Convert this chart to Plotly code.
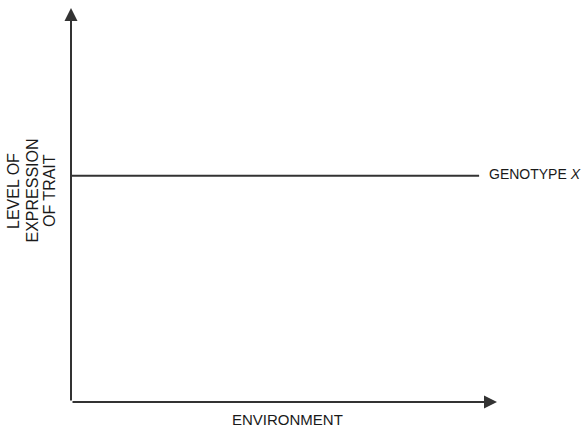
import plotly.graph_objects as go

# Data
environment = [0.0, 0.958]          # environment range covered by genotype X
level_genotype_x = [0.574, 0.574]   # constant level of expression
series_label = "GENOTYPE <i>X</i>"
x_title = "ENVIRONMENT"
y_title_lines = ["LEVEL OF", "EXPRESSION", "OF TRAIT"]

W, H = 583, 428
L, R, T, B = 71, 86, 8, 26

ink = "#333333"
font = dict(family="Liberation Sans, Arial, sans-serif", size=14, color="#1a1a1a")

pw = W - L - R
ph = H - T - B

def px_x(p):   # page pixel x -> paper x
    return (p - L) / pw

def px_y(p):   # page pixel y -> paper y
    return (H - B - p) / ph

fig = go.Figure()
fig.add_trace(go.Scatter(
    x=environment, y=level_genotype_x, mode="lines",
    line=dict(color=ink, width=2), showlegend=False, hoverinfo="skip",
    cliponaxis=False,
))

annotations = [
    dict(x=0, y=1, ax=0, ay=0, xref="x", yref="y", axref="x", ayref="y",
         showarrow=True, arrowhead=2, arrowsize=1.3, arrowwidth=2,
         arrowcolor=ink, text="", standoff=0, startstandoff=0),
    dict(x=1, y=0, ax=0, ay=0, xref="x", yref="y", axref="x", ayref="y",
         showarrow=True, arrowhead=2, arrowsize=1.3, arrowwidth=2,
         arrowcolor=ink, text="", standoff=0, startstandoff=0),
    dict(x=px_x(487), y=level_genotype_x[-1], xref="paper", yref="y",
         text=series_label, showarrow=False, xanchor="left", yanchor="middle",
         font=font, yshift=2),
    dict(x=px_x(287), y=px_y(419), xref="paper", yref="paper", text=x_title,
         showarrow=False, xanchor="center", yanchor="middle",
         font=dict(font, size=15)),
]
for line_text, xpix in zip(y_title_lines, [13, 31.5, 49]):
    annotations.append(dict(
        x=px_x(xpix), y=px_y(191), xref="paper", yref="paper", text=line_text,
        showarrow=False, xanchor="center", yanchor="middle", textangle=-90,
        font=dict(font, size=16)))

fig.update_layout(
    width=W, height=H,
    margin=dict(l=L, r=R, t=T, b=B, pad=0),
    paper_bgcolor="white", plot_bgcolor="white",
    xaxis=dict(range=[0, 1], visible=False, fixedrange=True),
    yaxis=dict(range=[0, 1], visible=False, fixedrange=True),
    annotations=annotations,
    showlegend=False,
)

fig.write_html(
    "out.html",
    config={"displayModeBar": False},
    post_script="document.body.style.margin='0';document.body.style.overflow='hidden';",
)
